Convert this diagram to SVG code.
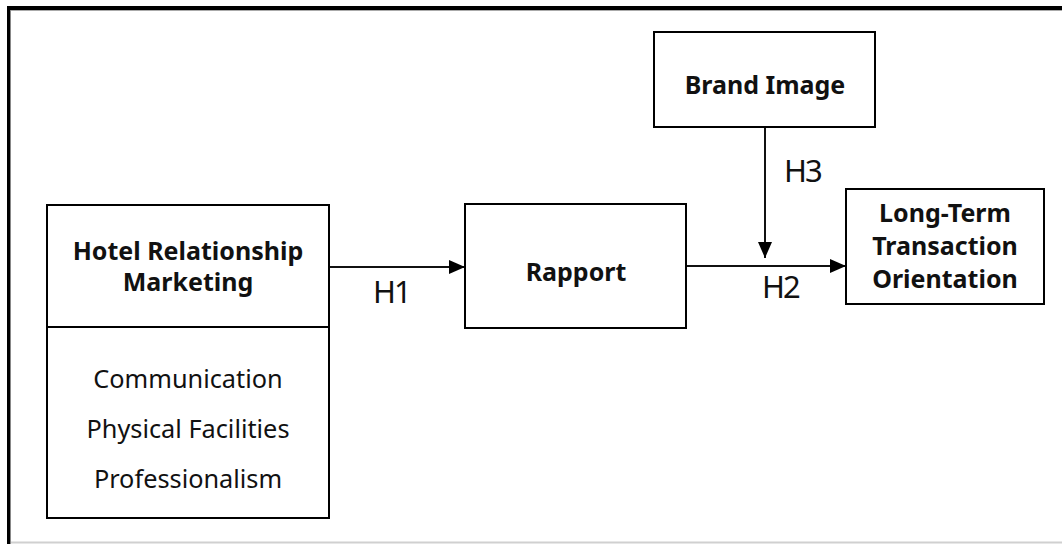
<svg xmlns="http://www.w3.org/2000/svg" width="1062" height="544" viewBox="0 0 1062 544">
<style>
.box{fill:#fff;stroke:#000;stroke-width:2}
.b{font-family:"Noto Sans","Liberation Sans",sans-serif;font-weight:bold;font-size:25px;fill:#111;text-anchor:middle}
.r{font-family:"Noto Sans","Liberation Sans",sans-serif;font-size:25.3px;fill:#111;text-anchor:middle}
.h{font-family:"Noto Sans","Liberation Sans",sans-serif;font-size:31px;fill:#111;letter-spacing:-2px}
.c{stroke:#111;stroke-width:2;fill:none}
</style>
<defs>
<marker id="arr" viewBox="0 0 16 14" refX="16" refY="7" markerWidth="16" markerHeight="14" markerUnits="userSpaceOnUse" orient="auto">
<path d="M0,0 L16,7 L0,14 Z" fill="#000"/>
</marker>
</defs>
<rect width="1062" height="544" fill="#fff"/>
<g id="frame">
<line x1="10" y1="542.5" x2="1062" y2="542.5" stroke="#d0d0d0" stroke-width="2"/>
<line x1="10" y1="10.5" x2="1062" y2="10.5" stroke="#aaa" stroke-width="1"/>
<line x1="10.5" y1="10" x2="10.5" y2="544" stroke="#888" stroke-width="1"/>
<rect x="7" y="6" width="1055" height="4" fill="#000"/>
<rect x="7" y="6" width="3" height="538" fill="#000"/>
</g>
<g id="connectors">
<line class="c" x1="329" y1="267" x2="465" y2="267" marker-end="url(#arr)"/>
<line class="c" x1="687" y1="266" x2="846" y2="266" marker-end="url(#arr)"/>
<line class="c" x1="765" y1="127" x2="765" y2="258" marker-end="url(#arr)"/>
<text class="h" x="373" y="303">H1</text>
<text class="h" x="762" y="298">H2</text>
<text class="h" x="784" y="182">H3</text>
</g>
<g id="hrm">
<rect class="box" x="47" y="205" width="282" height="313"/>
<line x1="47" y1="327" x2="329" y2="327" stroke="#000" stroke-width="2"/>
<text class="b" x="188" y="260">Hotel Relationship</text>
<text class="b" x="188" y="291">Marketing</text>
<text class="r" x="188" y="388">Communication</text>
<text class="r" x="188" y="438">Physical Facilities</text>
<text class="r" x="188" y="488">Professionalism</text>
</g>
<g id="rapport">
<rect class="box" x="465" y="204" width="221" height="124"/>
<text class="b" x="576" y="281">Rapport</text>
</g>
<g id="brand">
<rect class="box" x="654" y="32" width="221" height="95"/>
<text class="b" x="765" y="94">Brand Image</text>
</g>
<g id="ltto">
<rect class="box" x="846" y="189" width="198" height="115"/>
<text class="b" x="945" y="222">Long-Term</text>
<text class="b" x="945" y="255">Transaction</text>
<text class="b" x="945" y="288">Orientation</text>
</g>
</svg>
